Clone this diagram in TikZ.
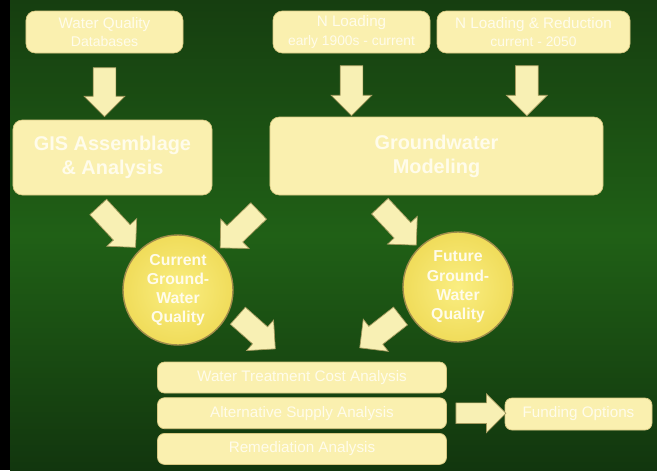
\documentclass[tikz,border=0pt]{standalone}
\usepackage{fontspec}
\setmainfont{Liberation Sans}
\usepackage{tikz}
\usetikzlibrary{shapes.geometric, shapes.arrows, positioning, calc}
\definecolor{bgtop}{RGB}{22,62,16}
\definecolor{bgmid}{RGB}{32,96,22}
\definecolor{bgbot}{RGB}{18,54,14}
\definecolor{boxfill}{RGB}{250,240,175}
\definecolor{boxedge}{RGB}{215,200,130}
\definecolor{textcol}{RGB}{255,252,235}
\definecolor{circfill}{RGB}{240,220,90}
\definecolor{circlight}{RGB}{250,238,130}
\definecolor{circedge}{RGB}{160,140,75}
\definecolor{arrfill}{RGB}{248,240,180}
\definecolor{arredge}{RGB}{165,155,95}

\begin{document}
\begin{tikzpicture}[
  x=0.03cm, y=-0.03cm,
  box/.style   = {rectangle, rounded corners=8pt, fill=boxfill, draw=boxedge,
                  line width=0.6pt, text=textcol, align=center, inner sep=0pt},
  small/.style = {box, minimum height=1.26cm, font=\fontsize{13}{16}\selectfont},
  big/.style   = {box, font=\fontsize{17}{20.5}\bfseries\selectfont},
  row/.style   = {box, rounded corners=6pt, minimum width=8.67cm, minimum height=0.93cm,
                  font=\fontsize{13}{15}\selectfont},
  pool/.style  = {circle, minimum size=3.3cm, inner sep=0pt, inner color=circlight,
                  outer color=circfill, draw=circedge, line width=1.2pt, text=textcol,
                  align=center, font=\fontsize{13.5}{16.4}\bfseries\selectfont},
  blk/.style   = {single arrow, single arrow head extend=0.27cm, minimum width=1.2cm,
                  minimum height=#1, inner xsep=0pt, inner ysep=0.33cm, fill=arrfill,
                  draw=arredge, line width=0.6pt, sloped, allow upside down},
]
  % background
  \useasboundingbox (0,0) rectangle (657,470);
  \shade[top color=bgtop, bottom color=bgmid] (10,0) rectangle (657,235);
  \shade[top color=bgmid, bottom color=bgbot] (10,235) rectangle (657,470);
  \fill[black] (0,0) rectangle (10,470);

  \node[small, minimum width=4.71cm] (wqd) at (104.5,32)
    {Water Quality\\{\fontsize{12}{14}\selectfont Databases}};
  \node[small, minimum width=4.71cm] (nl)  at (351.5,32)
    {N Loading\\{\fontsize{11.8}{14}\selectfont early 1900s - current}};
  \node[small, minimum width=5.79cm] (nlr) at (533.5,32)
    {N Loading \& Reduction\\{\fontsize{11.8}{14}\selectfont current - 2050}};
  \node[big, minimum width=5.97cm, minimum height=2.25cm] (gis) at (112.5,157.5)
    {GIS Assemblage\\\& Analysis};
  \node[big, minimum width=9.99cm, minimum height=2.34cm] (gwm) at (436.5,156)
    {Groundwater\\Modeling};
  \node[pool] (cur) at (178,290) {Current\\Ground-\\Water\\Quality};
  \node[pool] (fut) at (458,287) {Future\\Ground-\\Water\\Quality};
  \node[row] (wtca) at (302,377.5) {Water Treatment Cost Analysis};
  \node[row, below=0.12cm of wtca] (asa) {Alternative Supply Analysis};
  \node[row, below=0.12cm of asa]  (ra)  {Remediation Analysis};
  \node[row, minimum width=4.41cm, minimum height=0.96cm] (fund) at (578.5,414)
    {Funding Options};

  \path (wqd.south) -- node[blk=1.47cm] {} (wqd.south |- gis.north);
  \path (nl.south)  -- node[blk=1.5cm] {} (nl.south |- gwm.north);
  \path ([xshift=-0.2cm]nlr.south) -- node[blk=1.5cm] {} ([xshift=-0.2cm]nlr.south |- gwm.north);
  \path ([xshift=-0.75cm]gis.south) -- node[blk=1.65cm] {} (cur.135);
  \path ([yshift=-0.15cm]gwm.south west) -- node[blk=1.6cm] {} (cur.45);
  \path ([xshift=-2cm]gwm.south) -- node[blk=1.6cm] {} (fut.135);
  \path (cur.-20) -- node[blk=1.5cm] {} ([xshift=-0.83cm, yshift=0.41cm]wtca.north);
  \path (fut.-155) -- node[blk=1.55cm] {} ([xshift=1.79cm, yshift=0.46cm]wtca.north);
  \path (asa.east) -- node[blk=1.5cm, minimum width=1.14cm, inner ysep=0.3cm] {} (asa.east -| fund.west);
\end{tikzpicture}
\end{document}
